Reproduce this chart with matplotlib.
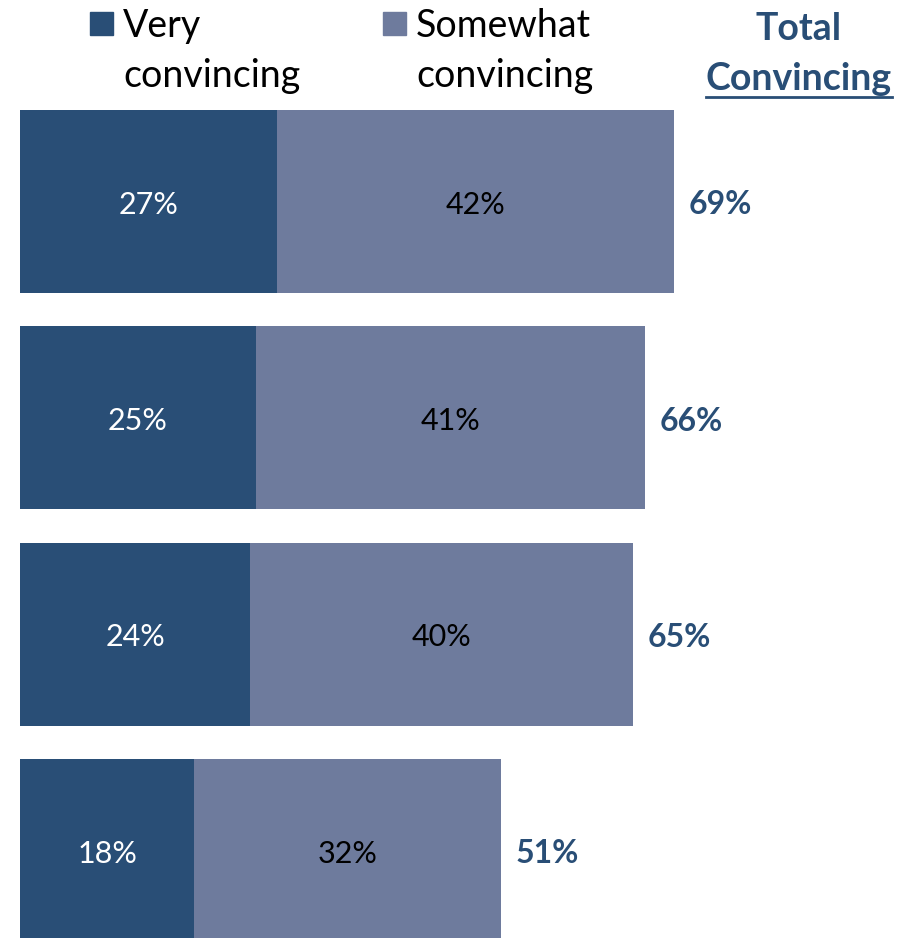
import matplotlib.pyplot as plt
from matplotlib.lines import Line2D
import numpy as np

very = [27.1, 24.9, 24.3, 18.4]
somewhat = [41.9, 41.1, 40.4, 32.4]
legend_labels = [("Very", "convincing"), ("Somewhat", "convincing")]
header = ("Total", "Convincing")

dark = "#294e76"
light = "#6e7b9d"
plt.rcParams['font.family'] = ['Lato', 'DejaVu Sans']

W, H = 903, 938
fig = plt.figure(figsize=(W / 100, H / 100), dpi=100)
ax = fig.add_axes([20 / W, 0, 1 - 20 / W, 1 - 110 / H])

y = np.arange(len(very))
h = 0.846
ax.barh(y, very, height=h, color=dark)
ax.barh(y, somewhat, left=very, height=h, color=light)
ax.set_xlim(0, 93.2)
ax.set_ylim(3.405, -h / 2)
ax.axis('off')

dy = 0.015
for i in range(len(y)):
    tot = very[i] + somewhat[i]
    ax.text(very[i] / 2, y[i] + dy, f"{round(very[i])}%", color="white",
            fontsize=22, ha="center", va="center")
    ax.text(very[i] + somewhat[i] / 2, y[i] + dy, f"{round(somewhat[i])}%",
            color="black", fontsize=22, ha="center", va="center")
    ax.text(tot + 1.55, y[i] + dy, f"{round(tot)}%", color=dark,
            fontsize=23, fontweight="bold", ha="left", va="center")

# legend
for x0, lab, c in [(90, legend_labels[0], dark), (383, legend_labels[1], light)]:
    fig.patches.append(plt.Rectangle((x0 / W, 1 - 35 / H), 23 / W, 23 / H,
                                     color=c, transform=fig.transFigure))
    fig.text((x0 + 33) / W, 1 - 37 / H, lab[0], fontsize=27, va="baseline")
    fig.text((x0 + 33) / W, 1 - 87 / H, lab[1], fontsize=27, va="baseline")

fig.text(799 / W, 1 - 40 / H, header[0], fontsize=27, fontweight="bold",
         color=dark, ha="center", va="baseline")
t = fig.text(799 / W, 1 - 90 / H, header[1], fontsize=27, fontweight="bold",
             color=dark, ha="center", va="baseline")
fig.canvas.draw()
bb = t.get_window_extent()
fig.add_artist(Line2D([bb.x0 / W, bb.x1 / W], [1 - 97 / H, 1 - 97 / H],
                      color=dark, lw=2, transform=fig.transFigure))

fig.savefig("out.png", dpi=100)
